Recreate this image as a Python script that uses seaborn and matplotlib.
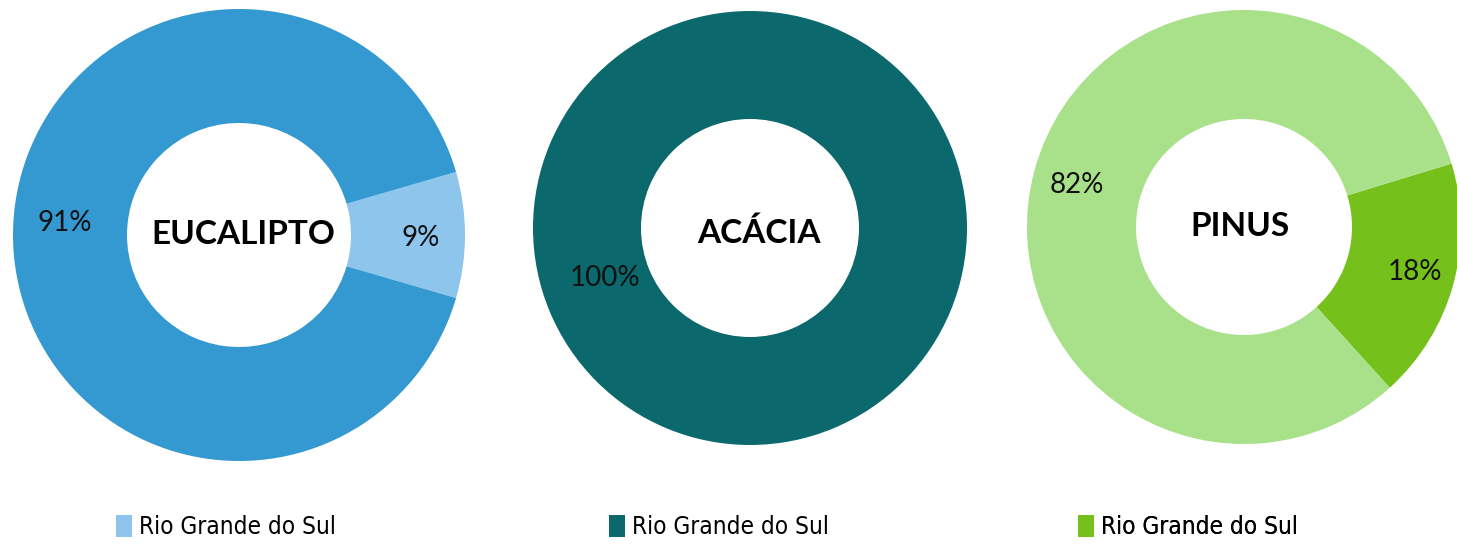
import matplotlib
matplotlib.use("Agg")
import matplotlib.pyplot as plt
from matplotlib.patches import Patch
from matplotlib import font_manager as fm
import seaborn as sns

sns.set_theme(style="white")
plt.rcParams['font.family'] = ['Lato', 'DejaVu Sans']

# ---- data ----
species = ["EUCALIPTO", "ACÁCIA", "PINUS"]
legend_label = "Rio Grande do Sul"
euc_values = [9, 91]
aca_values = [100]
pin_values = [18, 82]
euc_labels = ["9%", "91%"]
aca_labels = ["100%"]
pin_labels = ["18%", "82%"]
euc_colors = ["#8ec5ec", "#3399d0"]
aca_colors = ["#0b686c"]
pin_colors = ["#76c01c", "#a9e08a"]

W, H = 1457, 544
fig = plt.figure(figsize=(W / 100, H / 100), dpi=100)
ax = fig.add_axes([0, 0, 1, 1])

def donut(values, colors, center, r_out, r_in, start):
    ax.pie(values, colors=colors, center=center, radius=r_out, startangle=start,
           counterclock=False, wedgeprops=dict(width=r_out - r_in, linewidth=0),
           frame=True)

donut(euc_values, euc_colors, (239, H - 235), 226, 112, 16.2)
donut(aca_values, aca_colors, (750, H - 228), 217, 109, 90)
donut(pin_values, pin_colors, (1244, H - 227), 217, 108, 17)
ax.set_xlim(0, W)
ax.set_ylim(0, H)
ax.set_aspect("equal")
ax.axis("off")

pct_kw = dict(fontsize=20, color="#111111", ha="center", va="center")
ax.text(65, H - 223, euc_labels[1], **pct_kw)
ax.text(421, H - 238, euc_labels[0], **pct_kw)
ax.text(605, H - 278, aca_labels[0], **pct_kw)
ax.text(1077, H - 185, pin_labels[1], **pct_kw)
ax.text(1415, H - 272, pin_labels[0], **pct_kw)

title_kw = dict(fontsize=24, fontweight="bold", color="#000000", ha="center", va="center")
ax.text(243, H - 235, species[0], **title_kw)
ax.text(759, H - 233, species[1], **title_kw)
ax.text(1240, H - 226, species[2], **title_kw)

leg_font = fm.FontProperties(family=["DejaVu Sans"], stretch="condensed", size=17.5)

legend_pos = [(104, H - 527), (597, H - 527), (1066, H - 527)]
legend_cols = [euc_colors[0], aca_colors[0], pin_colors[0]]
for (x, y), c in zip(legend_pos, legend_cols):
    leg = ax.legend(handles=[Patch(facecolor=c, edgecolor="none", label=legend_label)],
                    loc="center left", bbox_to_anchor=(x / W, y / H),
                    bbox_transform=fig.transFigure, frameon=False,
                    handlelength=0.65, handleheight=1.0, handletextpad=0.3,
                    borderpad=0, prop=leg_font, labelcolor="#000000")
    ax.add_artist(leg)

fig.savefig("out.png", dpi=100, facecolor="white")
